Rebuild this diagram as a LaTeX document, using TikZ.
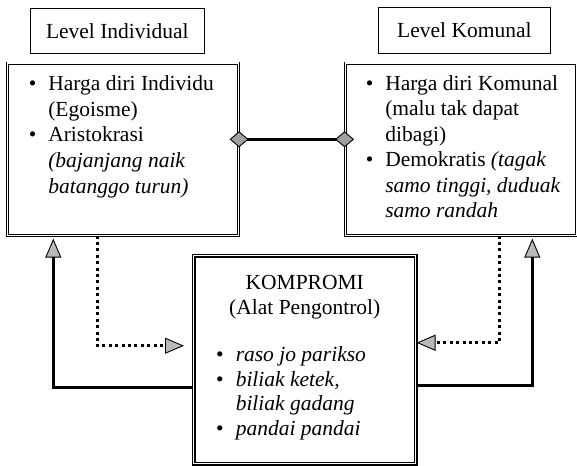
\documentclass[tikz,border=0pt]{standalone}
\usepackage{fontspec}
\setmainfont{Liberation Serif}
\usetikzlibrary{arrows.meta}

% bullet hung to the left of the text margin
\newcommand{\butir}{\leavevmode\llap{\textbullet\hspace{12pt}}}

\tikzset{
  every node/.style={font=\fontsize{21.5}{25}\selectfont},
  levelbox/.style={draw,line width=0.7pt,inner sep=0pt,anchor=north west},
  panel/.style={draw,double,line width=0.6pt,double distance=1.6pt,inner sep=0pt,anchor=north west},
  corepanel/.style={draw,double,line width=1.5pt,double distance=1.3pt,inner sep=0pt,anchor=north west},
  flowtip/.style={-{Triangle[length=19pt,width=16pt,line width=0.9pt,fill=gray!55]}},
  flow/.style={line width=2.6pt,flowtip},
  dotflow/.style={line width=2.6pt,dash pattern=on 3pt off 3.4pt,flowtip},
  link/.style={line width=2.6pt,shorten <=-9pt,shorten >=-9pt,
    {Diamond[length=19pt,width=16pt,line width=0.9pt,fill=gray!75]}-{Diamond[length=19pt,width=16pt,line width=0.9pt,fill=gray!75]}}
}

\begin{document}
\begin{tikzpicture}[x=1pt,y=-1pt]
\useasboundingbox (0,0) rectangle (577,465);

% level labels
\node[levelbox,minimum width=174pt,minimum height=45pt] (lvlind) at (30,8) {Level Individual};
\node[levelbox,minimum width=172pt,minimum height=46pt] (lvlkom) at (378,7) {Level Komunal};

% the two value boxes
\node[panel] (indiv) at (7,63) {\parbox[c][172pt][t]{231pt}{\fontsize{21.5}{25.7}\selectfont\raggedright\leftskip=41pt
  \butir\rule{0pt}{27pt}Harga diri Individu\\
  (Egoisme)\\
  \butir Aristokrasi\\
  \textit{(bajanjang naik}\\
  \textit{batanggo turun)}}};
\node[panel] (komunal) at (345,63) {\parbox[c][172pt][t]{231pt}{\fontsize{21.5}{25.5}\selectfont\raggedright\leftskip=40pt
  \butir\rule{0pt}{27pt}Harga diri Komunal\\
  (malu tak dapat\\
  dibagi)\\
  \butir Demokratis \textit{(tagak}\\
  \textit{samo tinggi, duduak}\\
  \textit{samo randah}}};

% compromise box
\node[corepanel] (kompromi) at (193,255) {\parbox[c][208pt][t]{222pt}{\fontsize{21.5}{24.8}\selectfont
  {\centering\rule{0pt}{34pt}KOMPROMI\\(Alat Pengontrol)\par}
  \vspace{22pt}
  \raggedright\leftskip=42pt
  \butir\textit{raso jo parikso}\\
  \butir\textit{biliak ketek,}\\
  \textit{biliak gadang}\\
  \butir\textit{pandai pandai}}};

% connectors
\draw[link] ([yshift=10pt]indiv.east) -- ([yshift=10pt]komunal.west);
\draw[flow,shorten >=3pt] ([yshift=-28pt]kompromi.west) -| ([xshift=-69.5pt]indiv.south);
\draw[dotflow,shorten >=9pt] ([xshift=-25.5pt]indiv.south) |- ([yshift=14pt]kompromi.west);
\draw[dotflow] ([xshift=38.5pt]komunal.south) |- ([yshift=17pt]kompromi.east);
\draw[flow,shorten >=3pt] ([yshift=-26pt]kompromi.east) -| ([xshift=71.5pt]komunal.south);
\end{tikzpicture}
\end{document}
